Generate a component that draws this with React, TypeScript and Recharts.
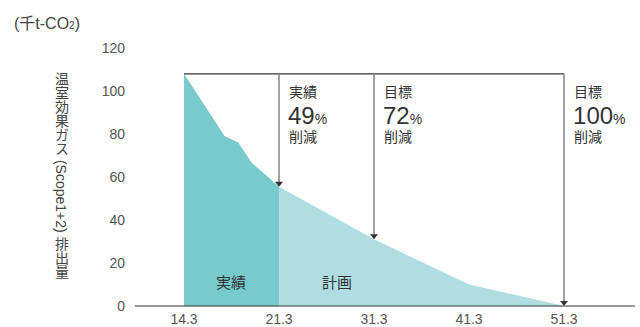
import React from 'react';
import { ComposedChart, Area, XAxis, YAxis, ReferenceLine, ReferenceDot } from 'recharts';

// fiscal year-ends (yy.m) and emissions in 千t-CO2
const actualYears = ['14.3', '17.3', '18.3', '19.3', '20.3', '21.3'];
const actualValues = [108, 79, 76, 66.5, 61, 55.5];
const planYears = ['21.3', '31.3', '41.3', '51.3'];
const planValues = [55.5, 31, 10, 0];
const tickLabels = ['14.3', '21.3', '31.3', '41.3', '51.3'];
const yTicks = [0, 20, 40, 60, 80, 100, 120];

const targets = [
  { year: '21.3', head: '実績', pct: 49 },
  { year: '31.3', head: '目標', pct: 72 },
  { year: '51.3', head: '目標', pct: 100 },
];

const FONT = '"Liberation Sans", "Noto Sans CJK JP", sans-serif';
const BASE = actualValues[0];

// the axis is not linear in time: 14.3→21.3 and each later decade take one step each
const pos = (y: string) => {
  const yr = parseFloat(y);
  return yr <= 21.3 ? (yr - 14.3) / 7 : 1 + (yr - 21.3) / 10;
};

const valueAt = (y: string) => {
  const i = planYears.indexOf(y);
  if (i >= 0) return planValues[i];
  return actualValues[actualYears.indexOf(y)];
};

const rows: any[] = [];
actualYears.forEach((y, i) => rows.push({ x: pos(y), actual: actualValues[i] }));
planYears.forEach((y, i) => {
  const r = rows.find((d) => d.x === pos(y));
  if (r) r.plan = planValues[i];
  else rows.push({ x: pos(y), plan: planValues[i] });
});

const ArrowShape = (t: any) => (props: any) => {
  const { x1, y1, y2 } = props;
  const top = Math.min(y1, y2);
  const bot = Math.max(y1, y2);
  return (
    <g>
      <line x1={x1} y1={top} x2={x1} y2={bot - 4} stroke="#8a8a8a" strokeWidth={1.6} />
      <polygon points={`${x1 - 4},${bot - 5} ${x1 + 4},${bot - 5} ${x1},${bot}`} fill="#333" />
      <text x={x1 + 10} y={top + 23} fontSize={14} fill="#333" fontFamily={FONT}>{t.head}</text>
      <text x={x1 + 9} y={top + 50} fontSize={24} fill="#333" fontFamily={FONT}>
        {t.pct}
        <tspan fontSize={14}>%</tspan>
      </text>
      <text x={x1 + 10} y={top + 68} fontSize={14} fill="#333" fontFamily={FONT}>削減</text>
    </g>
  );
};

const AreaLabel = (txt: string) => (p: any) => (
  <text x={p.cx} y={p.cy} textAnchor="middle" dominantBaseline="central" fontSize={15} fill="#333" fontFamily={FONT}>
    {txt}
  </text>
);

export default function App() {
  return (
    <div style={{ position: 'absolute', left: 0, top: 0, width: 640, height: 327, background: '#fff', fontFamily: FONT }}>
      <div style={{ position: 'absolute', left: 14, top: 10, fontSize: 16, color: '#444', whiteSpace: 'nowrap' }}>
        (千t-CO<span style={{ fontSize: 10 }}>2</span>)
      </div>
      <div
        style={{
          position: 'absolute',
          left: 51,
          top: 72,
          writingMode: 'vertical-rl',
          fontSize: 14,
          color: '#444',
          whiteSpace: 'nowrap',
        }}
      >
        温室効果ガス (Scope1+2) 排出量
      </div>
      <ComposedChart width={640} height={327} data={rows} margin={{ top: 48, right: 5, bottom: 0, left: 0 }}>
        <XAxis
          type="number"
          dataKey="x"
          domain={[-0.516, 4.747]}
          ticks={[0, 1, 2, 3, 4]}
          tickFormatter={(v) => tickLabels[v]}
          allowDataOverflow
          height={21}
          tickLine={false}
          axisLine={{ stroke: '#333' }}
          tick={{ fontSize: 14, fill: '#555', fontFamily: FONT }}
        />
        <YAxis
          type="number"
          domain={[0, 120]}
          ticks={yTicks}
          width={135}
          tickLine={false}
          axisLine={false}
          tickMargin={4}
          tick={{ fontSize: 14, fill: '#555', fontFamily: FONT }}
        />
        <Area type="linear" dataKey="actual" stroke="none" fill="#77cbcd" fillOpacity={1} dot={false} activeDot={false} isAnimationActive={false} />
        <Area type="linear" dataKey="plan" stroke="none" fill="#afdde2" fillOpacity={1} dot={false} activeDot={false} isAnimationActive={false} />
        <ReferenceLine
          segment={[{ x: pos(actualYears[0]), y: BASE }, { x: pos(planYears[planYears.length - 1]), y: BASE }]}
          stroke="#333"
          strokeWidth={1.2}
        />
        {targets.map((t) => (
          <ReferenceLine
            key={t.year + t.pct}
            segment={[{ x: pos(t.year), y: BASE }, { x: pos(t.year), y: valueAt(t.year) }]}
            shape={ArrowShape(t)}
          />
        ))}
        <ReferenceDot x={0.495} y={11} r={0} shape={AreaLabel('実績')} />
        <ReferenceDot x={1.61} y={11} r={0} shape={AreaLabel('計画')} />
      </ComposedChart>
    </div>
  );
}
